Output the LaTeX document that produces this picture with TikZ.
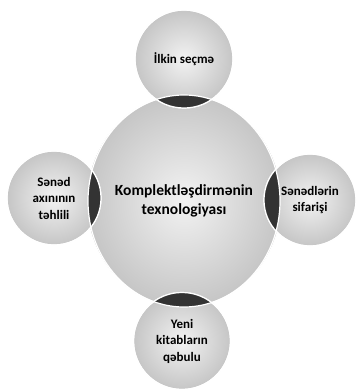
\documentclass[tikz,border=0pt]{standalone}
\usepackage{fontspec}
\setmainfont{Carlito}
\usetikzlibrary{shapes.geometric}
\begin{document}
\begin{tikzpicture}[x=1pt,y=-1pt,
  bubble/.style={circle, draw=white, line width=1.2pt, shading=radial,
    inner color=gray!10, outer color=gray!45, align=center, text=black,
    font=\bfseries\fontsize{13}{16.5}\selectfont, inner sep=0pt},
  bigbubble/.style={bubble, ellipse, font=\bfseries\fontsize{15.5}{18.5}\selectfont},
  lens/.style={fill=black!80},
  rim/.style={draw=white, line width=1.2pt}]
\useasboundingbox (0,0) rectangle (358,391);
\node[bigbubble, minimum width=192pt, minimum height=212pt] (c) at (184,201) {Komplektləşdirmənin\\texnologiyası};
\node[bubble, minimum size=98pt] (t) at (184,59) {İlkin seçmə};
\node[bubble, minimum size=94pt] (l) at (54,198) {Sənəd\\axınının\\təhlili};
\node[bubble, minimum size=92pt] (r) at (310,200) {Sənədlərin\\sifarişi};
\node[bubble, minimum size=97pt] (b) at (182,341) {Yeni\\kitabların\\qəbulu};
\begin{scope}
  \clip (c.center) ellipse[x radius=96, y radius=106];
  \fill[lens] (t.center) circle[radius=49];
  \fill[lens] (l.center) circle[radius=47];
  \fill[lens] (r.center) circle[radius=46];
  \fill[lens] (b.center) circle[radius=48.5];
\end{scope}
\draw[rim] (c.center) ellipse[x radius=96, y radius=106];
\draw[rim] (t.center) circle[radius=49];
\draw[rim] (l.center) circle[radius=47];
\draw[rim] (r.center) circle[radius=46];
\draw[rim] (b.center) circle[radius=48.5];
\end{tikzpicture}
\end{document}
